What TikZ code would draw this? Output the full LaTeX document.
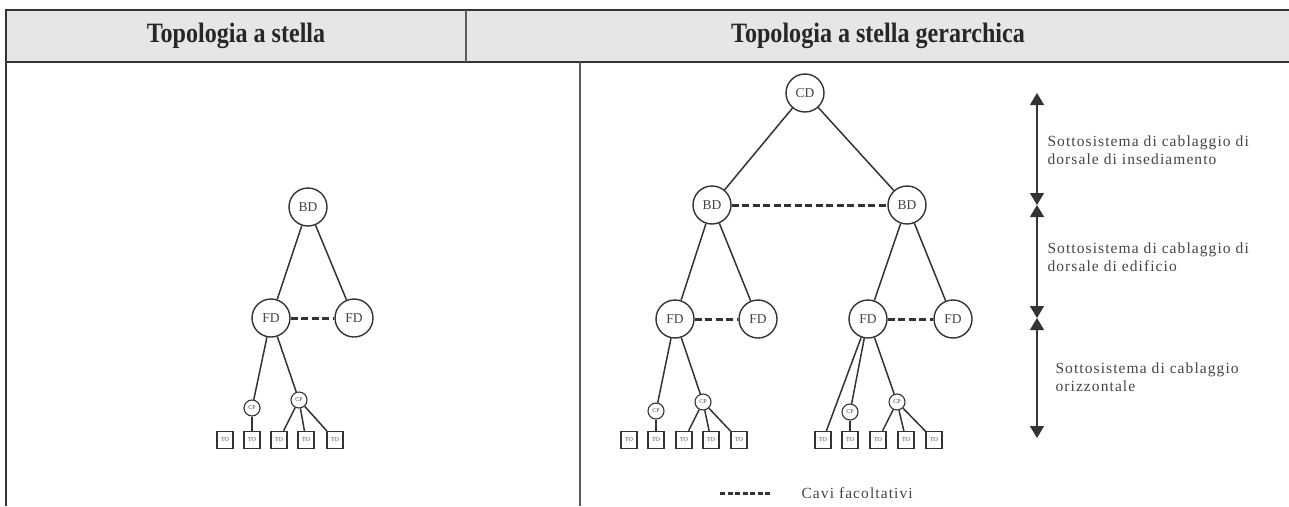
\documentclass[tikz,border=0pt]{standalone}
\usepackage{fontspec}
\setmainfont{Liberation Serif}
\newfontfamily\subfont[LetterSpace=7]{Liberation Serif}
\usetikzlibrary{arrows.meta}
\definecolor{linegray}{HTML}{333333}
\definecolor{headgray}{HTML}{E6E6E6}
\definecolor{textgray}{HTML}{444444}

\begin{document}
\begin{tikzpicture}[x=1pt,y=-1pt,
    headtitle/.style={xscale=.86,font=\fontsize{28}{30}\selectfont\bfseries,text=black!85},
    subsys/.style={anchor=west,align=left,text=textgray,font=\subfont\fontsize{15.5}{17.5}\selectfont},
    levelarrow/.style={draw=linegray,line width=1.3pt,>={Triangle[width=14pt,length=12pt]},<->}]

      \useasboundingbox (0,0) rectangle (1289,506);

      % table frame
      \fill[headgray] (6,10) rectangle (1289,62);
      \draw[linegray,line width=2pt] (1289,10) -- (6,10) -- (6,506);
      \draw[linegray,line width=2pt] (6,62) -- (1289,62);
      \draw[linegray!80,line width=1.5pt] (466,10) -- (466,62);
      \draw[linegray!80,line width=1.5pt] (580,62) -- (580,506);

      \node[headtitle] (titleA) at (236,36) {Topologia a stella};
      \node[headtitle] (titleB) at (878,36) {Topologia a stella gerarchica};

      % star topology
      \begin{scope}[every node/.style={circle,draw=linegray,line width=1.4pt,inner sep=0pt,minimum size=38pt,font=\fontsize{13.5}{13.5}\selectfont,text=textgray}]
        \node (bd)  at (308,207) {BD};
        \node (fd1) at (271,318) {FD};
        \node (fd2) at (354,318) {FD};
      \end{scope}

      \begin{scope}[every node/.style={circle,draw=linegray,line width=1.1pt,inner sep=0pt,minimum size=16pt,font=\fontsize{6}{6}\selectfont,text=textgray}]
        \node (cp1) at (252,408) {CP};
        \node (cp2) at (299,400) {CP};
      \end{scope}

      \begin{scope}[every node/.style={draw=linegray,line width=1.1pt,inner sep=0pt,minimum width=16pt,minimum height=17pt,font=\fontsize{6}{6}\selectfont,text=textgray}]
        \node (to1) at (225,440) {TO};
        \node (to2) at (252,440) {TO};
        \node (to3) at (279,440) {TO};
        \node (to4) at (306,440) {TO};
        \node (to5) at (335,440) {TO};
      \end{scope}

      \begin{scope}[every edge/.style={draw=linegray,line width=1.5pt}]
        \path (bd)  edge (fd1);
        \path (bd)  edge (fd2);
        \path (fd1) edge[line width=3pt,dash pattern=on 7pt off 3.5pt] (fd2);
        \path (fd1) edge (cp1);
        \path (fd1) edge (cp2);
        \path (cp1) edge (to2);
        \path (cp2) edge (to3);
        \path (cp2) edge (to4);
        \path (cp2) edge (to5);
      \end{scope}

      % hierarchical star topology
      \begin{scope}[every node/.style={circle,draw=linegray,line width=1.4pt,inner sep=0pt,minimum size=38pt,font=\fontsize{13.5}{13.5}\selectfont,text=textgray}]
        \node (rcd)  at (805,93)  {CD};
        \node (rbd1) at (712,205) {BD};
        \node (rbd2) at (907,205) {BD};
        \node (rfd1) at (675,319) {FD};
        \node (rfd2) at (758,319) {FD};
        \node (rfd3) at (868,319) {FD};
        \node (rfd4) at (953,319) {FD};
      \end{scope}

      \begin{scope}[every node/.style={circle,draw=linegray,line width=1.1pt,inner sep=0pt,minimum size=16pt,font=\fontsize{6}{6}\selectfont,text=textgray}]
        \node (rcp1) at (656,411) {CP};
        \node (rcp2) at (703,402) {CP};
        \node (rcp3) at (850,412) {CP};
        \node (rcp4) at (897,402) {CP};
      \end{scope}

      \begin{scope}[every node/.style={draw=linegray,line width=1.1pt,inner sep=0pt,minimum width=16pt,minimum height=17pt,font=\fontsize{6}{6}\selectfont,text=textgray}]
        \node (rto1)  at (629,440) {TO};
        \node (rto2)  at (656,440) {TO};
        \node (rto3)  at (684,440) {TO};
        \node (rto4)  at (711,440) {TO};
        \node (rto5)  at (739,440) {TO};
        \node (rto6)  at (823,440) {TO};
        \node (rto7)  at (850,440) {TO};
        \node (rto8)  at (878,440) {TO};
        \node (rto9)  at (906,440) {TO};
        \node (rto10) at (934,440) {TO};
      \end{scope}

      \begin{scope}[every edge/.style={draw=linegray,line width=1.5pt}]
        \path (rcd)  edge (rbd1);
        \path (rcd)  edge (rbd2);
        \path (rbd1) edge[line width=3pt,dash pattern=on 7pt off 3.5pt] (rbd2);
        \path (rbd1) edge (rfd1);
        \path (rbd1) edge (rfd2);
        \path (rbd2) edge (rfd3);
        \path (rbd2) edge (rfd4);
        \path (rfd1) edge[line width=3pt,dash pattern=on 7pt off 3.5pt] (rfd2);
        \path (rfd3) edge[line width=3pt,dash pattern=on 7pt off 3.5pt] (rfd4);
        \path (rfd1) edge (rcp1);
        \path (rfd1) edge (rcp2);
        \path (rcp1) edge (rto2);
        \path (rcp2) edge (rto3);
        \path (rcp2) edge (rto4);
        \path (rcp2) edge (rto5);
        \path (rfd3) edge (rto6);
        \path (rfd3) edge (rcp3);
        \path (rfd3) edge (rcp4);
        \path (rcp3) edge (rto7);
        \path (rcp4) edge (rto8);
        \path (rcp4) edge (rto9);
        \path (rcp4) edge (rto10);
      \end{scope}

      % subsystem levels
      \coordinate (lv0) at (1037,93);
      \coordinate (lv1) at (1037,205);
      \coordinate (lv2) at (1037,318);
      \coordinate (lv3) at (1037,438);
      \path (lv0) edge[levelarrow] (lv1);
      \path (lv1) edge[levelarrow] (lv2);
      \path (lv2) edge[levelarrow] (lv3);

      \node[subsys] (lvtextA) at (1044,150) {Sottosistema di cablaggio di\\dorsale di insediamento};
      \node[subsys] (lvtextB) at (1044,257) {Sottosistema di cablaggio di\\dorsale di edificio};
      \node[subsys] (lvtextC) at (1052,377) {Sottosistema di cablaggio\\orizzontale};

      % legend
      \coordinate (legA) at (720,493);
      \coordinate (legB) at (772,493);
      \path (legA) edge[draw=linegray,line width=3pt,dash pattern=on 5pt off 2.5pt] (legB);
      \node[anchor=west,text=textgray,font=\subfont\fontsize{15.5}{17.5}\selectfont] (legtext) at (798,493) {Cavi facoltativi};

    \end{tikzpicture}
\end{document}
